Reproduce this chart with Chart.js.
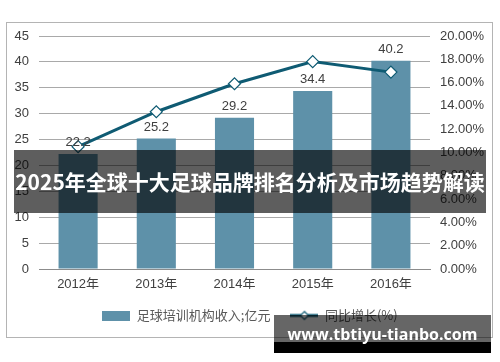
<!DOCTYPE html>
<html>
<head>
<meta charset="utf-8">
<script src="https://cdn.jsdelivr.net/npm/chart.js@4"></script>
<style>
  html, body { margin: 0; padding: 0; background: #fff; }
  #wrap { position: relative; width: 500px; height: 362px; overflow: hidden; }
  #frame { position: absolute; left: 6px; top: 22px; width: 485px; height: 314px; border: 1px solid #b4b4b4; }
  #chart { position: absolute; left: 0; top: 0; }
  #banner {
    position: absolute; left: 14px; top: 150px; width: 472px; height: 63px;
    background: rgba(0, 0, 0, 0.63); color: #fff;
    font: bold 21px 'Noto Sans CJK SC', sans-serif;
    line-height: 63px; text-align: center; white-space: nowrap;
  }
  #mark {
    position: absolute; left: 274px; top: 315px; width: 217px; height: 27px;
    background: rgba(0, 0, 0, 0.6); border-bottom: 11px solid #000;
    color: #fff; font: bold 16px 'Open Sans', sans-serif;
    text-align: center; line-height: 38px; white-space: nowrap;
  }
</style>
</head>
<body>
<div id="wrap">
  <div id="frame"></div>
  <canvas id="chart" width="500" height="362"></canvas>
  <div id="banner">2025年全球十大足球品牌排名分析及市场趋势解读</div>
  <div id="mark">www.tbtiyu-tianbo.com</div>
</div>
<script>
const years = ['2012年', '2013年', '2014年', '2015年', '2016年'];
const revenue = [22.2, 25.2, 29.2, 34.4, 40.2];
const growth = [10.5, 13.5, 15.9, 17.8, 16.9];
const seriesNames = ['足球培训机构收入;亿元', '同比增长(%)'];

const barColor = '#5e91a9';
const lineColor = '#0f5b73';

Chart.defaults.font.family = "'Liberation Sans', 'Noto Sans CJK SC', sans-serif";
Chart.defaults.font.size = 13;
Chart.defaults.color = '#404040';

// legend swatches
function barSwatch() {
  const c = document.createElement('canvas');
  c.width = 28; c.height = 10;
  const g = c.getContext('2d');
  g.fillStyle = barColor;
  g.fillRect(0, 0, 28, 10);
  return c;
}
function lineSwatch() {
  const c = document.createElement('canvas');
  c.width = 28; c.height = 12;
  const g = c.getContext('2d');
  g.strokeStyle = lineColor;
  g.lineWidth = 3;
  g.beginPath(); g.moveTo(0, 6); g.lineTo(28, 6); g.stroke();
  g.fillStyle = '#fff';
  g.lineWidth = 1.2;
  g.beginPath();
  g.moveTo(14, 2); g.lineTo(18, 6); g.lineTo(14, 10); g.lineTo(10, 6); g.closePath();
  g.fill(); g.stroke();
  return c;
}
const swatches = [barSwatch(), lineSwatch()];

const barLabels = {
  id: 'barLabels',
  afterDatasetsDraw(chart) {
    const ctx = chart.ctx;
    const meta = chart.getDatasetMeta(0);
    ctx.save();
    ctx.font = "13px 'Liberation Sans', sans-serif";
    ctx.fillStyle = '#404040';
    ctx.textAlign = 'center';
    ctx.textBaseline = 'bottom';
    meta.data.forEach((bar, i) => {
      ctx.fillText(revenue[i].toFixed(1), bar.x, bar.y - 5);
    });
    ctx.restore();
  }
};

new Chart(document.getElementById('chart'), {
  data: {
    labels: years,
    datasets: [
      {
        type: 'bar',
        label: seriesNames[0],
        data: revenue,
        backgroundColor: barColor,
        categoryPercentage: 1,
        barPercentage: 0.5,
        yAxisID: 'y',
        order: 1
      },
      {
        type: 'line',
        label: seriesNames[1],
        data: growth,
        borderColor: lineColor,
        borderWidth: 3,
        pointStyle: 'rectRot',
        pointRadius: 6,
        pointBackgroundColor: '#fff',
        pointBorderColor: lineColor,
        pointBorderWidth: 1.2,
        yAxisID: 'y1',
        order: 0
      }
    ]
  },
  options: {
    responsive: false,
    animation: false,
    layout: { padding: { top: 36, left: 0, right: 0, bottom: 30 } },
    scales: {
      x: {
        grid: { display: false, drawTicks: false },
        border: { display: true, color: '#8c8c8c' },
        ticks: { padding: 8 },
        afterFit: (s) => { s.height = 20; }
      },
      y: {
        position: 'left',
        min: 0, max: 45,
        ticks: { stepSize: 5, padding: 10 },
        grid: { color: '#a9a9a9', drawTicks: false },
        border: { display: false },
        afterFit: (s) => { s.width = 39; }
      },
      y1: {
        position: 'right',
        min: 0, max: 20,
        ticks: { stepSize: 2, padding: 10, callback: (v) => v.toFixed(2) + '%' },
        grid: { display: false, drawTicks: false },
        border: { display: false },
        afterFit: (s) => { s.width = 70; }
      }
    },
    plugins: {
      tooltip: { enabled: false },
      legend: {
        position: 'bottom',
        labels: {
          usePointStyle: true,
          pointStyleWidth: 28,
          boxHeight: 12,
          padding: 20,
          color: '#595959',
          font: { size: 13, family: "'Noto Sans CJK SC', sans-serif" },
          generateLabels: (chart) => {
            const items = Chart.defaults.plugins.legend.labels.generateLabels(chart);
            items.sort((a, b) => a.datasetIndex - b.datasetIndex);
            items.forEach((it) => { it.pointStyle = swatches[it.datasetIndex]; });
            return items;
          }
        }
      }
    }
  },
  plugins: [barLabels]
});
</script>
</body>
</html>
